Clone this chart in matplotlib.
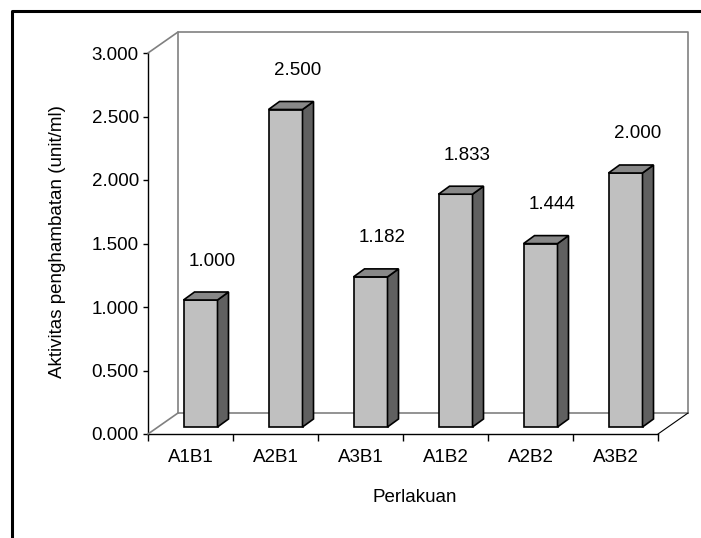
import numpy as np
import matplotlib
matplotlib.use("Agg")
import matplotlib.pyplot as plt
from matplotlib.patches import Rectangle, Polygon
from matplotlib.lines import Line2D
from matplotlib.transforms import ScaledTranslation

plt.rcParams['font.family'] = ['Liberation Sans', 'DejaVu Sans']

categories = ['A1B1', 'A2B1', 'A3B1', 'A1B2', 'A2B2', 'A3B2']
values = [1.000, 2.500, 1.182, 1.833, 1.444, 2.000]
value_labels = ['1.000', '2.500', '1.182', '1.833', '1.444', '2.000']
yticks = [0.0, 0.5, 1.0, 1.5, 2.0, 2.5, 3.0]

DPI = 100
W, H = 701, 538
FS = 13.5
fig = plt.figure(figsize=(W / DPI, H / DPI), dpi=DPI)
ax = fig.add_axes([148 / W, 104 / H, 510 / W, 381 / H])
ax.set_xlim(0, len(categories))
ax.set_ylim(0, 3)

def shift(dx, dy):
    # offset in pixels (dy positive = up)
    return ax.transData + ScaledTranslation(dx / DPI, dy / DPI, fig.dpi_scale_trans)

grey = '#808080'
back = shift(30, 21)
n = len(categories)

# back wall and floor / side wall edges
ax.add_line(Line2D([0, 0, n, n], [0, 3, 3, 0], color=grey, lw=1.2, transform=back, clip_on=False))
ax.add_line(Line2D([0, n], [0, 0], color=grey, lw=1.2, transform=back, clip_on=False))
for y0 in (0, 3):
    ax.annotate('', xy=(0, y0), xycoords=back, xytext=(0, y0), textcoords='data',
                arrowprops=dict(arrowstyle='-', color=grey, lw=1.2, shrinkA=0, shrinkB=0))
ax.annotate('', xy=(n, 0), xycoords=back, xytext=(n, 0), textcoords='data',
            arrowprops=dict(arrowstyle='-', color='black', lw=0.8, shrinkA=0, shrinkB=0))

# bars
bw = 0.4
face = shift(10, 7)
sd = shift(10 + 11, 7 + 8)
to_fig = fig.transFigure.inverted()
for i, v in enumerate(values):
    x0 = i + 0.5 - bw / 2
    x1 = x0 + bw
    ax.add_patch(Rectangle((x0, 0), bw, v, facecolor='#c0c0c0', edgecolor='black',
                           lw=1.2, transform=face, zorder=3, clip_on=False))
    # side face
    edge = [(x1, 0), (x1, v)]
    pts = [face.transform(p) for p in edge] + [sd.transform(p) for p in edge[::-1]]
    fig.add_artist(Polygon(to_fig.transform(np.array(pts)), closed=True, facecolor='#606060',
                           edgecolor='black', lw=1.2, transform=fig.transFigure, zorder=3))
    # top face
    edge = [(x0, v), (x1, v)]
    pts = [face.transform(p) for p in edge] + [sd.transform(p) for p in edge[::-1]]
    fig.add_artist(Polygon(to_fig.transform(np.array(pts)), closed=True, facecolor='#888888',
                           edgecolor='black', lw=1.2, transform=fig.transFigure, zorder=3))
    ax.annotate(value_labels[i], xy=(i + 0.5, v), xytext=(22 * 0.72, 46 * 0.72),
                textcoords='offset points', ha='center', va='center', fontsize=FS)

# axes styling
for s in ('top', 'right'):
    ax.spines[s].set_visible(False)
ax.spines['left'].set_linewidth(1.0)
ax.spines['bottom'].set_linewidth(1.0)
ax.patch.set_alpha(0)
ax.set_yticks(yticks)
ax.set_yticklabels([f'{t:.3f}' for t in yticks], fontsize=FS)
ax.tick_params(axis='y', length=3.6, width=1.0, pad=3)
ax.set_xticks(np.arange(n) + 0.5)
ax.set_xticklabels(categories, fontsize=FS)
ax.set_xticks(np.arange(n + 1), minor=True)
ax.tick_params(axis='x', which='major', length=0, pad=11)
ax.tick_params(axis='x', which='minor', length=5, width=1.0)

fig.text(57 / W, 1 - 242 / H, 'Aktivitas penghambatan (unit/ml)', rotation=90,
         ha='center', va='center', fontsize=FS)
fig.text(415 / W, 1 - 497 / H, 'Perlakuan', ha='center', va='center', fontsize=FS)

# outer chart frame (cropped on right and bottom)
fig.add_artist(Line2D([12 / W, 12 / W, 1.01], [-0.01, 1 - 11 / H, 1 - 11 / H],
                      color='black', lw=2.2, transform=fig.transFigure))

fig.savefig('out.png', dpi=DPI)
